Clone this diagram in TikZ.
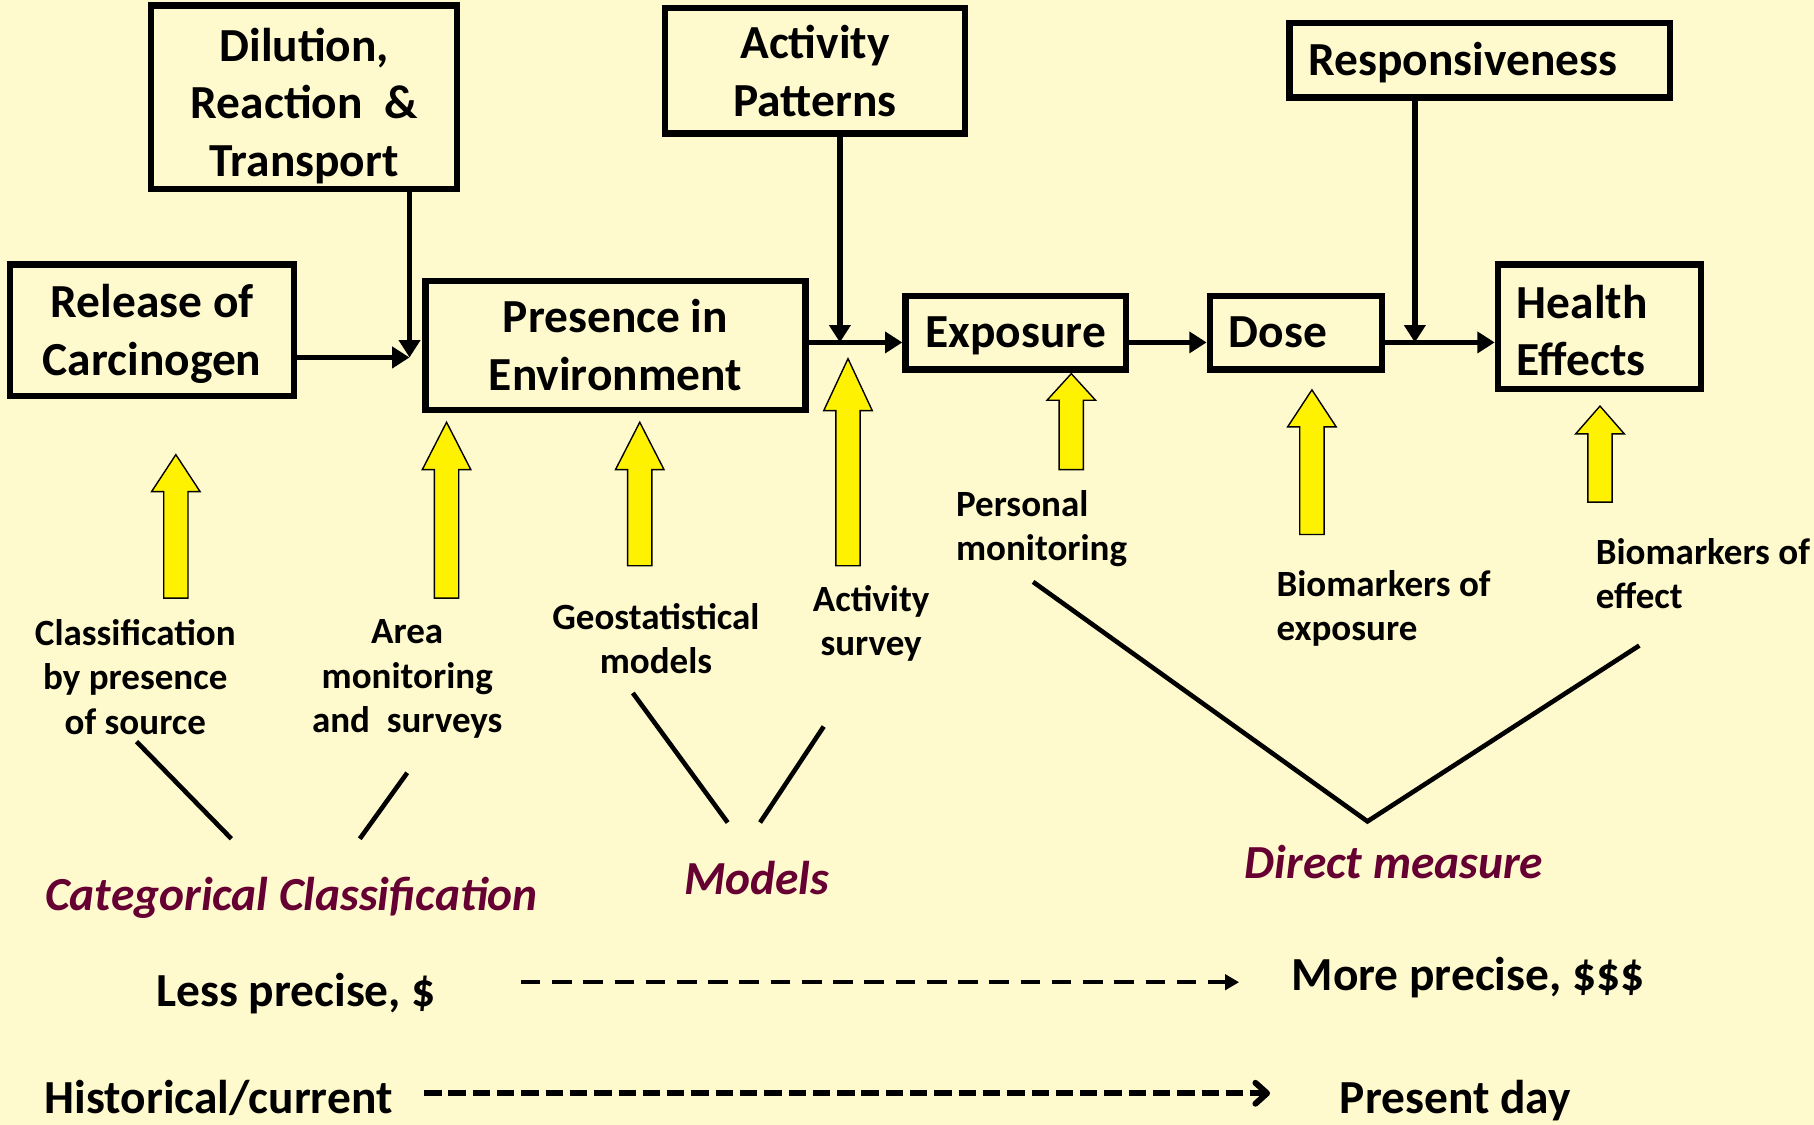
\documentclass[tikz,border=0pt]{standalone}
\usepackage{fontspec}
\setmainfont{Carlito}
\usetikzlibrary{arrows.meta}
\definecolor{bgyellow}{RGB}{255,250,205}
\definecolor{maroon}{RGB}{102,0,51}
\newcommand{\boxfont}{\fontsize{20.5}{25}\selectfont\bfseries}
\newcommand{\notefont}{\fontsize{16}{19.3}\selectfont\bfseries}
\newcommand{\catfont}{\fontsize{20.5}{25}\selectfont\bfseries\itshape}

\begin{document}
\begin{tikzpicture}
		[
			x=0.5pt, y=-0.5pt,
			box/.style={draw, line width=2.7pt, inner sep=0pt, align=center, font=\boxfont},
			lbox/.style={box, align=left, inner xsep=8.2pt},
			conn/.style={line width=2.3pt, -{Triangle[length=7.5pt, width=9pt]}},
			yarrow/.style={draw, fill=yellow, line width=0.6pt},
			note/.style={align=center, font=\notefont, inner sep=0pt},
			lnote/.style={note, align=left, anchor=west},
			vline/.style={line width=2pt},
			cat/.style={font=\catfont, text=maroon, inner sep=0pt},
			bottomtxt/.style={font=\boxfont, inner sep=0pt},
			dashA/.style={line width=1.7pt, dash pattern=on 8.5pt off 5pt, -{Triangle[length=6pt, width=6.5pt]}},
			dashB/.style={line width=2.6pt, dash pattern=on 7.5pt off 3pt, -{Straight Barb[length=5pt, width=9pt, round]}},
		]

		\useasboundingbox (0,0) rectangle (1568,972);
		\fill[bgyellow] (0,0) rectangle (1568,972);

		% Boxes
		\node[box, text depth=0.5pt, minimum width=122.8pt, minimum height=56.8pt] (rel) at (131.5,285.5) {Release of\\Carcinogen};
		\node[box, minimum width=132.3pt, minimum height=79.3pt] (dil) at (263,84) {\rule{0pt}{22pt}Dilution,\\Reaction~~\&\\Transport};
		\node[box, minimum width=164.3pt, minimum height=55.8pt] (pres) at (532,298.5) {Presence in\\Environment};
		\node[box, text depth=-4pt, minimum width=129.8pt, minimum height=54.3pt] (act) at (704.5,61) {Activity\\Patterns};
		\node[box, text depth=-2pt, minimum width=95.3pt, minimum height=31.8pt] (expo) at (878,287.5) {Exposure};
		\node[lbox, text depth=-4pt, text width=57.9pt, minimum height=31.8pt] (dose) at (1120,287.5) {Dose};
		\node[lbox, text depth=1pt, text width=147.9pt, minimum height=32.3pt] (resp) at (1279,52) {Responsiveness};
		\node[lbox, text depth=22pt, text width=71.4pt, minimum height=53.8pt] (health) at (1382.5,282.5) {Health\\Effects};

		% Connectors
		\coordinate (j1) at (354,309);
		\coordinate (j2) at (726,296);
		\coordinate (j3) at (1223,296);
		\draw[conn] (rel.east |- j1) -- (j1);
		\draw[conn] (dil.south -| j1) -- (j1);
		\draw[conn] (pres.east |- j2) -- (expo.west |- j2);
		\draw[conn] (act.south -| j2) -- (j2);
		\draw[conn] (expo.east |- j2) -- (dose.west |- j2);
		\draw[conn] (dose.east |- j3) -- (health.west |- j3);
		\draw[conn] (resp.south -| j3) -- (j3);

		% Yellow arrows
		\foreach \x/\tip/\base/\bot in
		{
			152/393/425/517,
			386/365/406/517,
			553/365/406/489,
			733/310/355/489,
			926/323/346/406,
			1134/337/369/462,
			1383/351/375/434
		}
			\draw[yarrow] (\x-10.5,\bot) -- (\x-10.5,\base) -- (\x-21,\base) -- (\x,\tip)
				-- (\x+21,\base) -- (\x+10.5,\base) -- (\x+10.5,\bot) -- cycle;

		% Methods
		\node[note] (cls) at (117,585) {Classification\\by presence\\of source};
		\node[note] (area) at (352,587) {Area\\monitoring\\and~~surveys};
		\node[note] (geo) at (567,552) {Geostatistical\\models};
		\node[note] (actsv) at (753,539) {Activity\\survey};
		\node[lnote] (pers) at (826,457) {Personal\\monitoring};
		\node[lnote] (bioexp) at (1103,526) {Biomarkers of\\exposure};
		\node[lnote] (bioeff) at (1379,496) {Biomarkers of\\effect};

		% Groups
		\foreach \xa/\ya/\xb/\yb in
		{
			118/641/200/725,
			352/668/311/725,
			547/599/629/711,
			712/628/657/711
		}
			\draw[vline] (\xa,\ya) -- (\xb,\yb);
		\draw[vline] (893,503) -- (1182,710) -- (1417,558);

		\node[cat] (catcl) at (252,776) {Categorical Classification};
		\node[cat] (models) at (654,759) {Models};
		\node[cat] (direct) at (1205,745) {Direct measure};

		% Scales
		\node[bottomtxt] (less) at (256,859) {Less precise, \$};
		\node[bottomtxt] (more) at (1269,845) {More precise, \$\$\$};
		\node[bottomtxt] (hist) at (189,949) {Historical/current};
		\node[bottomtxt] (today) at (1258,951) {Present day};
		\coordinate (d1) at (0,849);
		\coordinate (d2) at (0,945);
		\draw[dashA, shorten <=36.5pt, shorten >=22.5pt] (less.east |- d1) -- (more.west |- d1);
		\draw[dashB, shorten <=13.5pt, shorten >=30pt] (hist.east |- d2) -- (today.west |- d2);

\end{tikzpicture}
\end{document}
